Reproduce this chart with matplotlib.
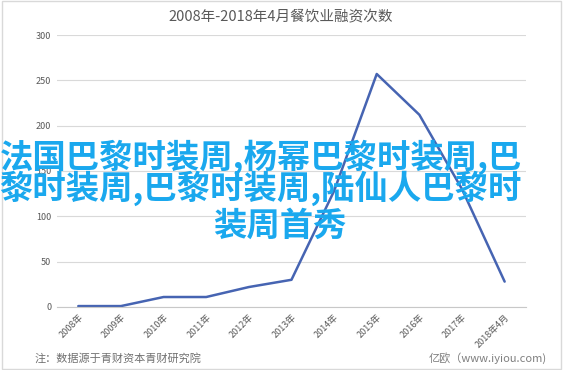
import matplotlib as mpl
mpl.use("Agg")
import matplotlib.pyplot as plt
from matplotlib.patches import Rectangle
import matplotlib.transforms as mtransforms

plt.rcParams["font.family"] = ["Noto Sans CJK SC", "DejaVu Sans"]

# Data.
years = ["2008年", "2009年", "2010年", "2011年", "2012年", "2013年",
	"2014年", "2015年", "2016年", "2017年", "2018年4月"]
counts = [1, 1, 11, 11, 22, 30, 128, 257, 212, 130, 28]
yticks = [0, 50, 100, 150, 200, 250, 300]

title = "2008年-2018年4月餐饮业融资次数"
note = "注：数据源于青财资本青财研究院"
source = "亿欧（www.iyiou.com)"
overlay = ["法国巴黎时装周,杨幂巴黎时装周,巴",
	"黎时装周,巴黎时装周,陆仙人巴黎时",
	"装周首秀"]

fig = plt.figure(figsize=(5.63, 3.70), dpi=100)
ax = fig.add_axes([0.1012, 0.1703, 0.8330, 0.7351])

x = list(range(len(years)))
ax.plot(x, counts, color="#4664b2", linewidth=1.8, solid_capstyle="round")

ax.set_xlim(-0.5, len(years) - 0.5)
ax.set_ylim(0, 300)
ax.set_yticks(yticks)
ax.set_yticklabels([str(v) for v in yticks], color="#595959", fontsize=6.5)
ax.set_xticks(x)
ax.set_xticklabels(years, rotation=45, ha="right", va="top",
	rotation_mode="anchor", color="#595959", fontsize=6.5)
offset = mtransforms.ScaledTranslation(6 / 72, 0, fig.dpi_scale_trans)
for lab in ax.get_xticklabels():
	lab.set_transform(lab.get_transform() + offset)

ax.grid(axis="y", color="#d9d9d9", linewidth=0.8)
ax.set_axisbelow(True)
for side in ["left", "right", "top"]:
	ax.spines[side].set_visible(False)
ax.spines["bottom"].set_color("#c8c8c8")
ax.spines["bottom"].set_linewidth(0.8)
ax.tick_params(axis="both", length=0, pad=4)

fig.text(0.498, 0.953, title, ha="center", va="center", fontsize=10.5, color="#595959")
fig.text(0.062, 0.032, note, ha="left", va="center", fontsize=8, color="#707070")
fig.text(0.972, 0.032, source, ha="right", va="center", fontsize=8, color="#7f7f7f")

# Big overlay caption.
line_y = [0.574, 0.490, 0.388]
line_x = [0.463, 0.463, 0.498]
for s, xx, yy in zip(overlay, line_x, line_y):
	fig.text(xx, yy, s, ha="center", va="center", fontsize=24,
		fontweight="bold", color="#1aa8ee")

fig.patches.append(Rectangle((0.003, 0.004), 0.994, 0.992, transform=fig.transFigure,
	fill=False, edgecolor="#d9d9d9", linewidth=1.0))

fig.savefig("out.png", dpi=100)
